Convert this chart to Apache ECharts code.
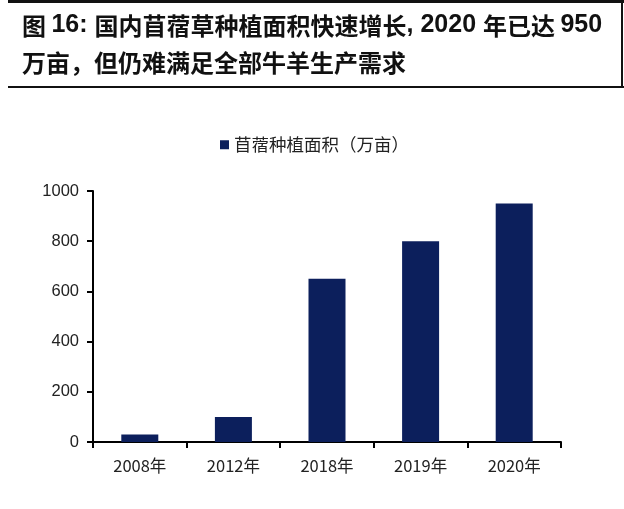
<!DOCTYPE html>
<html><head><meta charset="utf-8">
<script src="https://cdn.jsdelivr.net/npm/echarts@6/dist/echarts.min.js"></script>
<style>html,body{margin:0;padding:0;background:#fff}#c{width:624px;height:509px}</style>
</head><body><div id="c"></div>
<script>
const categories = ['2008年', '2012年', '2018年', '2019年', '2020年'];
const areaValues = [30, 100, 650, 800, 950];
const seriesName = '苜蓿种植面积（万亩）';
const yTicks = [0, 200, 400, 600, 800, 1000];
const titleLine1 = '{c|图 }{n|16: }{c|国内苜蓿草种植面积快速增长}{n|, 2020 }{c|年已达 }{n|950}';
const titleLine2 = '万亩，但仍难满足全部牛羊生产需求';

const titleRich = {
  c: { fontFamily: 'Noto Sans CJK SC', fontWeight: 'bold', fontSize: 24, fill: '#111' },
  n: { fontFamily: 'Liberation Sans', fontWeight: 'bold', fontSize: 25, fill: '#111' }
};

const chart = echarts.init(document.getElementById('c'));
chart.setOption({
  backgroundColor: '#fff',
  animation: false,
  graphic: [
    { type: 'rect', shape: { x: 8, y: 0, width: 616, height: 3 }, style: { fill: '#111' } },
    { type: 'rect', shape: { x: 8, y: 86, width: 616, height: 2 }, style: { fill: '#111' } },
    { type: 'rect', shape: { x: 621, y: 0, width: 2, height: 88 }, style: { fill: '#111' } },
    { type: 'text', left: 22, top: 13, style: { text: titleLine1, rich: titleRich, fill: '#111' } },
    { type: 'text', left: 22, top: 51, style: { text: titleLine2, font: 'bold 24px "Noto Sans CJK SC"', fill: '#111' } }
  ],
  legend: {
    data: [seriesName],
    top: 136, left: 220, padding: 0,
    icon: 'rect', itemWidth: 9, itemHeight: 9, itemGap: 4,
    textStyle: { fontFamily: 'Noto Sans CJK SC', fontSize: 17.5, color: '#222' }
  },
  grid: { left: 93, right: 63, top: 191, bottom: 67 },
  xAxis: {
    type: 'category', data: categories,
    axisLine: { lineStyle: { color: '#000', width: 2 } },
    axisTick: { show: true, alignWithLabel: false, length: 6, lineStyle: { color: '#000', width: 2 } },
    axisLabel: { color: '#222', fontSize: 16.5, margin: 15, fontFamily: 'Noto Sans CJK SC' }
  },
  yAxis: {
    type: 'value', min: 0, max: 1000, interval: 200,
    axisLine: { show: true, lineStyle: { color: '#000', width: 2 } },
    axisTick: { show: true, length: 6, lineStyle: { color: '#000', width: 2 } },
    splitLine: { show: false },
    axisLabel: { color: '#222', fontSize: 16.5, margin: 14, fontFamily: 'Liberation Sans',
      formatter: v => yTicks.includes(v) ? String(v) : '' }
  },
  series: [{
    name: seriesName, type: 'bar', data: areaValues,
    barWidth: 37,
    itemStyle: { color: '#0c1f5c' }
  }]
});
</script></body></html>
